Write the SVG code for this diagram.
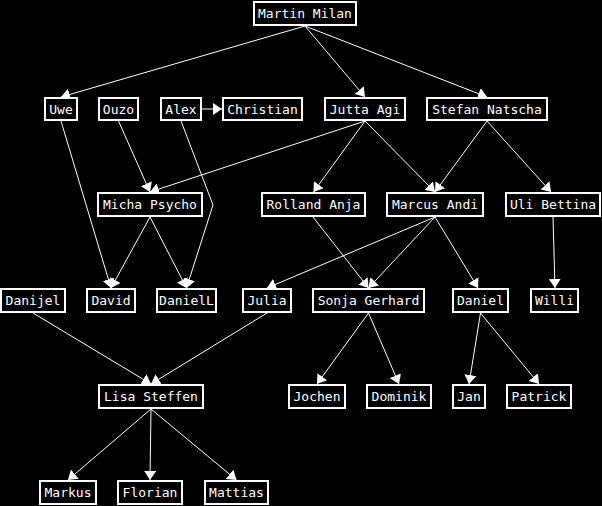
<svg xmlns="http://www.w3.org/2000/svg" width="602" height="506" viewBox="0 0 602 506">
<defs>
<marker id="ah" viewBox="0 0 9 12" refX="9" refY="6" markerWidth="9" markerHeight="12" markerUnits="userSpaceOnUse" orient="auto">
<path d="M0,0 L9,6 L0,12 z" fill="#fff"/>
</marker>
<style>
.n rect{fill:#000;stroke:#fff;stroke-width:2}
.n text{fill:#fff;font-family:"DejaVu Sans Mono","Liberation Mono",monospace;font-size:13px;text-anchor:middle}
.e line,.e polyline{stroke:#fff;stroke-width:1;fill:none;marker-end:url(#ah)}
</style>
</defs>
<rect width="602" height="506" fill="#000"/>
<g class="e" id="edges">
<line x1="305" y1="26" x2="61" y2="97"/>
<line x1="305" y1="26" x2="365" y2="97"/>
<line x1="305" y1="26" x2="487" y2="97"/>
<line x1="202" y1="109" x2="222" y2="109"/>
<line x1="61" y1="121" x2="111" y2="288"/>
<line x1="118.5" y1="121" x2="150" y2="192"/>
<line x1="365" y1="121" x2="150" y2="192"/>
<polyline points="181,121 213,205 186.5,288"/>
<line x1="150" y1="217" x2="111" y2="288"/>
<line x1="150" y1="217" x2="186.5" y2="288"/>
<line x1="365" y1="121" x2="313.5" y2="192"/>
<line x1="365" y1="121" x2="435" y2="192"/>
<line x1="487" y1="121" x2="435" y2="192"/>
<line x1="487" y1="121" x2="551" y2="192"/>
<line x1="313" y1="217" x2="368.5" y2="288"/>
<line x1="435" y1="217" x2="368.5" y2="288"/>
<line x1="435" y1="217" x2="267" y2="288"/>
<line x1="435" y1="217" x2="478" y2="288"/>
<line x1="553" y1="217" x2="555" y2="288"/>
<line x1="33" y1="313" x2="151" y2="384"/>
<line x1="267" y1="313" x2="151" y2="384"/>
<line x1="368.5" y1="313" x2="317" y2="384"/>
<line x1="368.5" y1="313" x2="399" y2="384"/>
<line x1="480.5" y1="313" x2="469" y2="384"/>
<line x1="480.5" y1="313" x2="539" y2="384"/>
<line x1="151" y1="409" x2="68" y2="480"/>
<line x1="151" y1="409" x2="150" y2="480"/>
<line x1="151" y1="409" x2="236.5" y2="480"/>
</g>
<g class="n" id="martin"><rect x="254" y="2" width="102" height="23"/><text x="305" y="18">Martin Milan</text></g>
<g class="n" id="uwe"><rect x="45" y="98" width="32" height="22"/><text x="61" y="114">Uwe</text></g>
<g class="n" id="ouzo"><rect x="99" y="98" width="39" height="22"/><text x="118.5" y="114">Ouzo</text></g>
<g class="n" id="alex"><rect x="161" y="98" width="40" height="22"/><text x="181" y="114">Alex</text></g>
<g class="n" id="christian"><rect x="223" y="98" width="79" height="22"/><text x="262.5" y="114">Christian</text></g>
<g class="n" id="jutta"><rect x="325" y="98" width="80" height="22"/><text x="365" y="114">Jutta Agi</text></g>
<g class="n" id="stefan"><rect x="427" y="98" width="120" height="22"/><text x="487" y="114">Stefan Natscha</text></g>
<g class="n" id="micha"><rect x="98" y="193" width="104" height="23"/><text x="150" y="209">Micha Psycho</text></g>
<g class="n" id="rolland"><rect x="262" y="193" width="103" height="23"/><text x="313.5" y="209">Rolland Anja</text></g>
<g class="n" id="marcus"><rect x="387" y="193" width="96" height="23"/><text x="435" y="209">Marcus Andi</text></g>
<g class="n" id="uli"><rect x="506" y="193" width="94" height="23"/><text x="553" y="209">Uli Bettina</text></g>
<g class="n" id="danijel"><rect x="1" y="289" width="64" height="23"/><text x="33" y="305">Danijel</text></g>
<g class="n" id="david"><rect x="87" y="289" width="48" height="23"/><text x="111" y="305">David</text></g>
<g class="n" id="daniell"><rect x="157" y="289" width="59" height="23"/><text x="186.5" y="305">DanielL</text></g>
<g class="n" id="julia"><rect x="243" y="289" width="48" height="23"/><text x="267" y="305">Julia</text></g>
<g class="n" id="sonja"><rect x="313" y="289" width="111" height="23"/><text x="368.5" y="305">Sonja Gerhard</text></g>
<g class="n" id="daniel"><rect x="453" y="289" width="55" height="23"/><text x="480.5" y="305">Daniel</text></g>
<g class="n" id="willi"><rect x="531" y="289" width="47" height="23"/><text x="554.5" y="305">Willi</text></g>
<g class="n" id="lisa"><rect x="99" y="385" width="104" height="23"/><text x="151" y="401">Lisa Steffen</text></g>
<g class="n" id="jochen"><rect x="289" y="385" width="56" height="23"/><text x="317" y="401">Jochen</text></g>
<g class="n" id="dominik"><rect x="367" y="385" width="64" height="23"/><text x="399" y="401">Dominik</text></g>
<g class="n" id="jan"><rect x="453" y="385" width="32" height="23"/><text x="469" y="401">Jan</text></g>
<g class="n" id="patrick"><rect x="507" y="385" width="64" height="23"/><text x="539" y="401">Patrick</text></g>
<g class="n" id="markus"><rect x="40" y="481" width="56" height="23"/><text x="68" y="497">Markus</text></g>
<g class="n" id="florian"><rect x="118" y="481" width="64" height="23"/><text x="150" y="497">Florian</text></g>
<g class="n" id="mattias"><rect x="205" y="481" width="63" height="23"/><text x="236.5" y="497">Mattias</text></g>
</svg>
